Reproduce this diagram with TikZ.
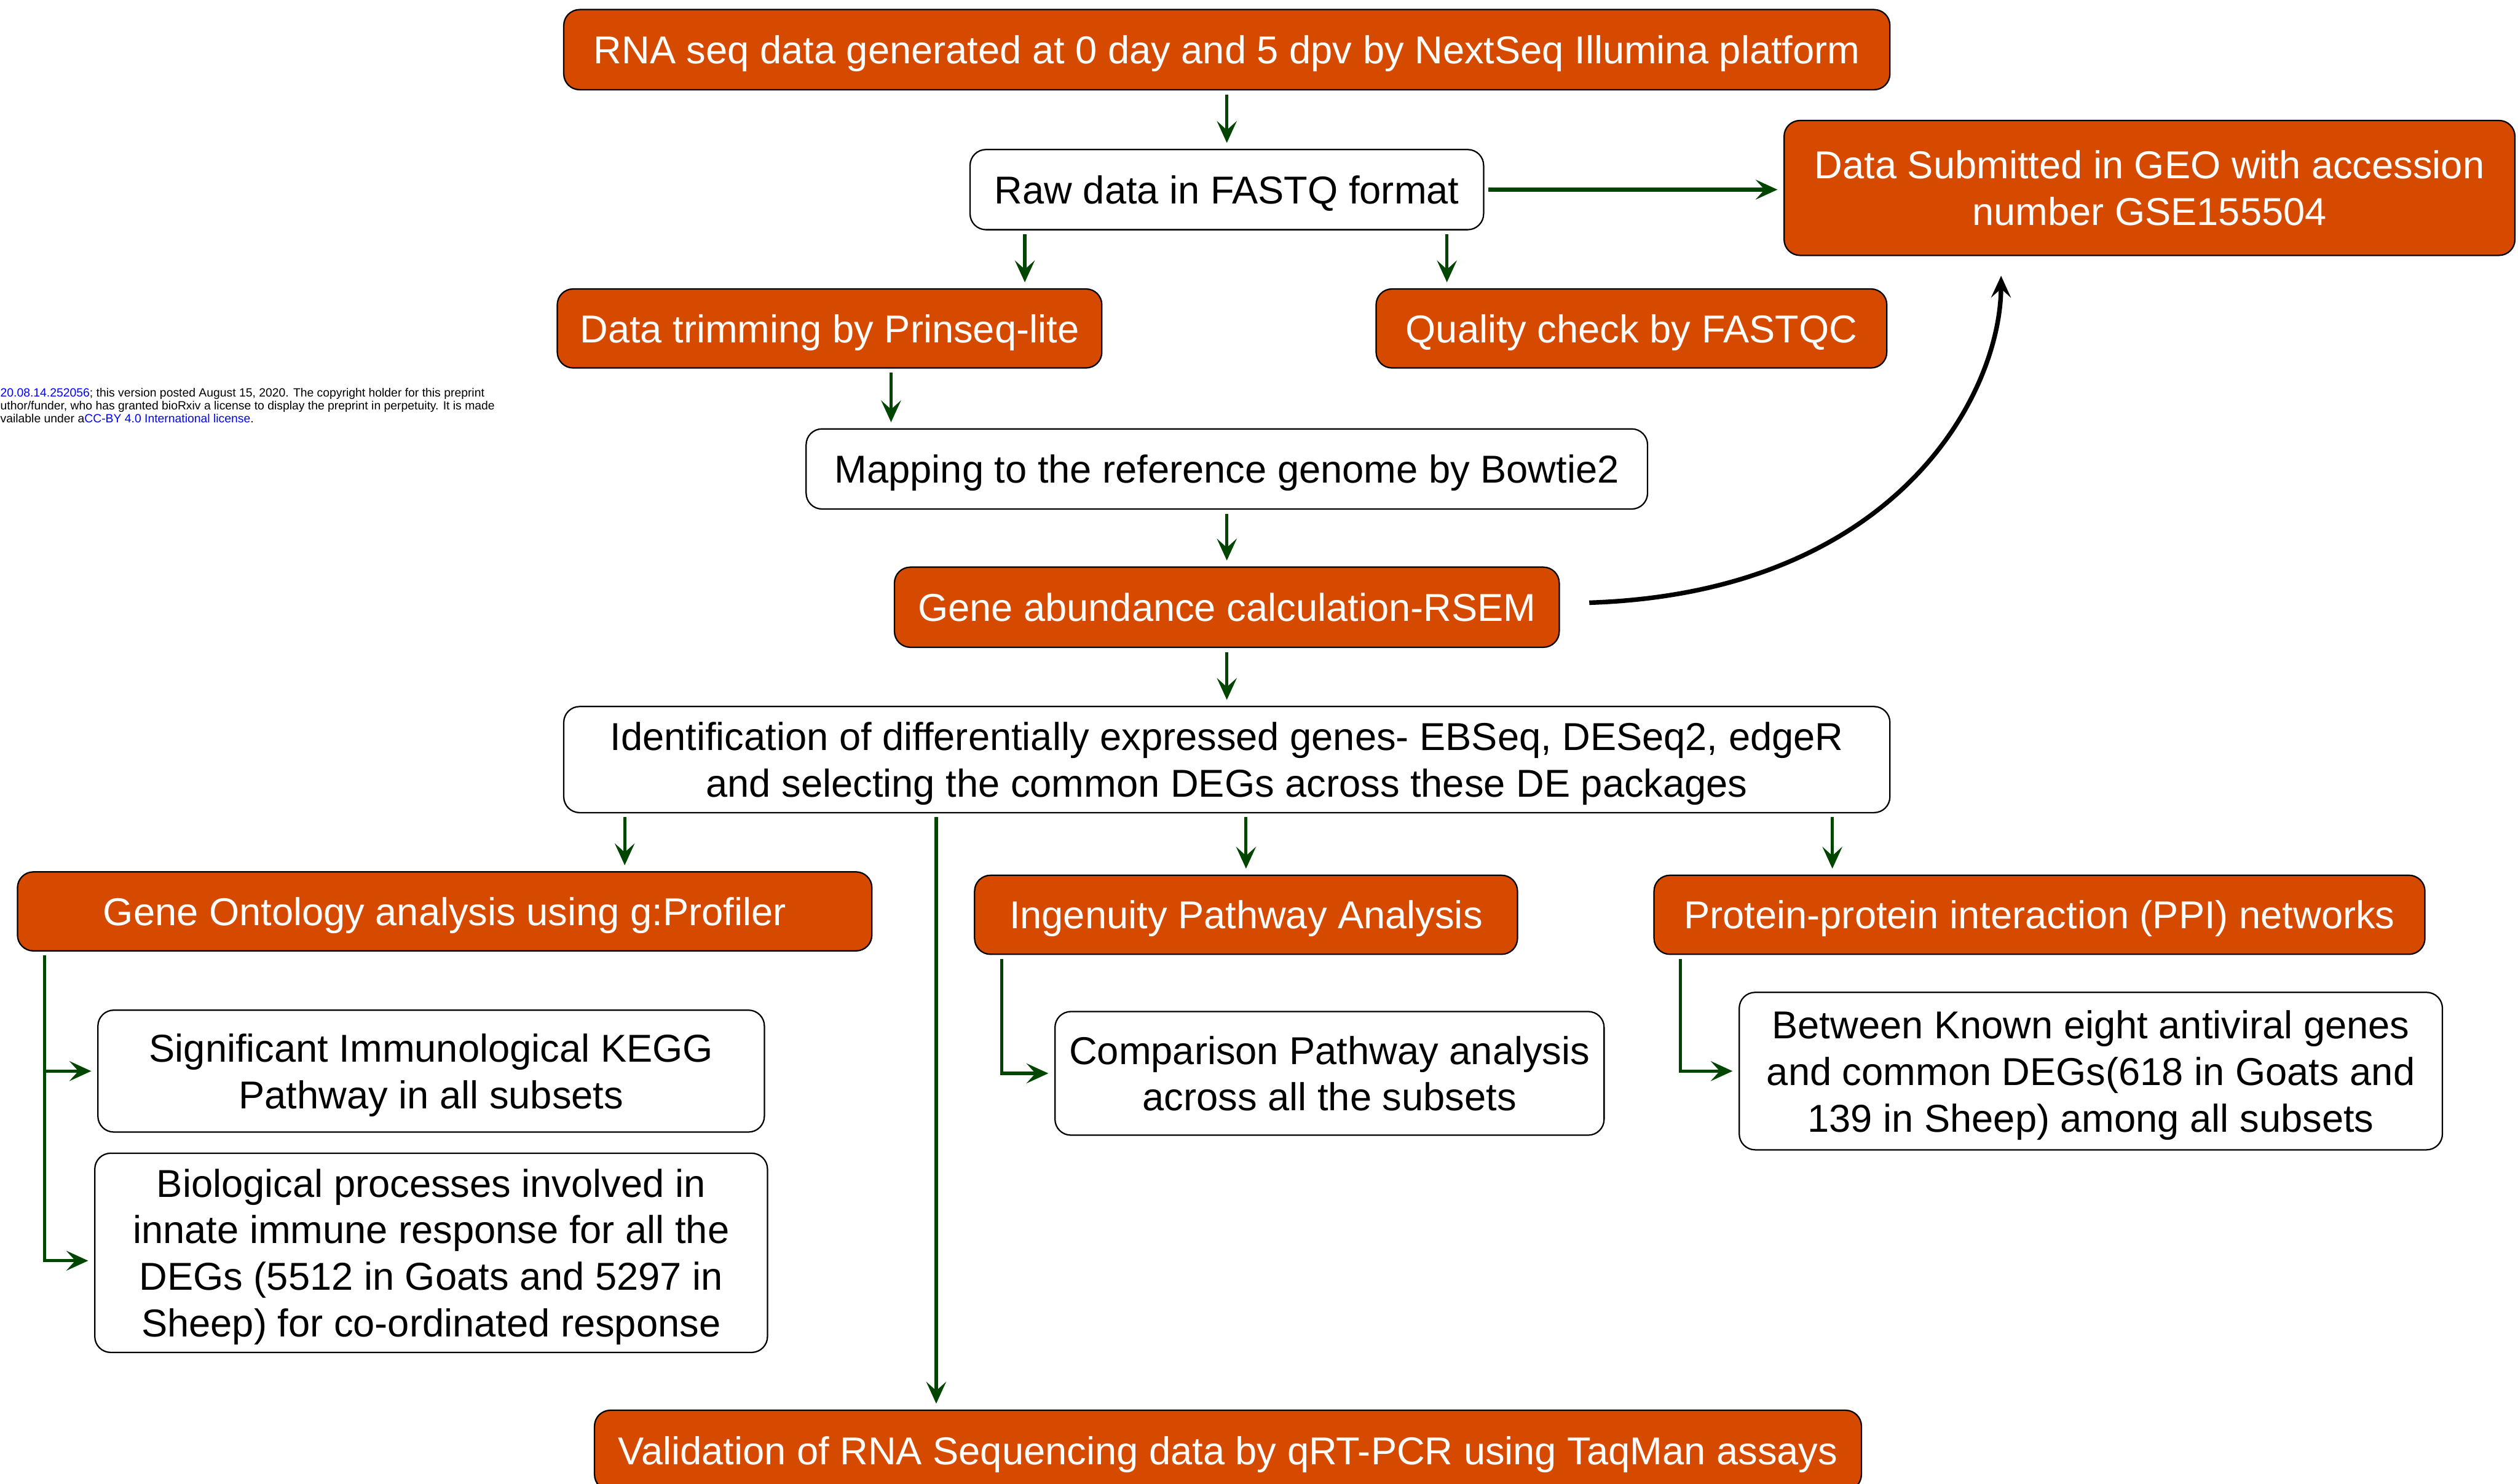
\documentclass[tikz,border=0pt]{standalone}
\usepackage{fontspec}
\setmainfont{Liberation Sans}
\usepackage{xcolor}
\usepackage{tikz}
\usetikzlibrary{arrows.meta}

\definecolor{boxorange}{RGB}{214,74,0}
\definecolor{arrowgreen}{RGB}{0,70,0}

\tikzset{
    box/.style={rectangle, rounded corners=8pt, draw=black, line width=0.7pt,
        align=center, inner sep=0pt, text depth=0pt, font=\fontsize{19.6}{23.5}\selectfont},
    orangebox/.style={box, fill=boxorange, text=white},
    whitebox/.style={box, fill=white, text=black},
    tip/.style={-{Stealth[length=11pt, width=10pt, inset=4.5pt]}},
    flow/.style={tip, draw=arrowgreen, line width=1.6pt, shorten <=2pt, shorten >=3pt},
    flowthick/.style={flow, line width=2.4pt},
    backflow/.style={tip, draw=black, line width=2.3pt}}

\begin{document}
\begin{tikzpicture}

            \useasboundingbox (0,0) rectangle (44.62,-26.29);

            \node[anchor=north west, align=left, inner sep=0pt, font=\fontsize{6}{6.5}\selectfont] (NOTE) at (0,-6.87) {\textcolor{blue}{20.08.14.252056}; this version posted August 15, 2020. The copyright holder for this preprint\\uthor/funder, who has granted bioRxiv a license to display the preprint in perpetuity. It is made\\vailable under a\textcolor{blue}{CC-BY 4.0 International license}.};

            \node[orangebox, minimum width=23.50cm, minimum height=1.42cm] (RNA) at (21.74,-0.88) {RNA seq data generated at 0 day and 5 dpv by NextSeq Illumina platform};
            \node[whitebox, minimum width=9.10cm, minimum height=1.42cm] (RAW) at (21.74,-3.36) {Raw data in FASTQ format};
            \node[orangebox, minimum width=12.95cm, minimum height=2.39cm] (GEO) at (38.09,-3.33) {Data Submitted in GEO with accession\\number GSE155504};
            \node[orangebox, minimum width=9.65cm, minimum height=1.40cm] (TRIM) at (14.70,-5.82) {Data trimming by Prinseq-lite};
            \node[orangebox, minimum width=9.05cm, minimum height=1.40cm] (QC) at (28.91,-5.82) {Quality check by FASTQC};
            \node[whitebox, minimum width=14.91cm, minimum height=1.42cm] (MAP) at (21.74,-8.31) {Mapping to the reference genome by Bowtie2};
            \node[orangebox, minimum width=11.78cm, minimum height=1.42cm] (RSEM) at (21.74,-10.76) {Gene abundance calculation-RSEM};
            \node[whitebox, minimum width=23.50cm, minimum height=1.88cm] (DEG) at (21.74,-13.46) {Identification of differentially expressed genes- EBSeq, DESeq2, edgeR\\and selecting the common DEGs across these DE packages};

            \node[orangebox, minimum width=15.14cm, minimum height=1.40cm] (GO) at (7.88,-16.15) {Gene Ontology analysis using g:Profiler};
            \node[orangebox, minimum width=9.62cm, minimum height=1.40cm] (IPA) at (22.08,-16.21) {Ingenuity Pathway Analysis};
            \node[orangebox, minimum width=13.66cm, minimum height=1.40cm] (PPI) at (36.14,-16.21) {Protein-protein interaction (PPI) networks};

            \node[whitebox, minimum width=11.81cm, minimum height=2.16cm] (KEGG) at (7.64,-18.98) {Significant Immunological KEGG\\Pathway in all subsets};
            \node[whitebox, minimum width=11.92cm, minimum height=3.53cm] (BP) at (7.64,-22.20) {Biological processes involved in\\innate immune response for all the\\DEGs (5512 in Goats and 5297 in\\Sheep) for co-ordinated response};
            \node[whitebox, minimum width=9.73cm, minimum height=2.19cm] (CPA) at (23.56,-19.02) {Comparison Pathway analysis\\across all the subsets};
            \node[whitebox, minimum width=12.46cm, minimum height=2.79cm] (AVG) at (37.05,-18.98) {Between Known eight antiviral genes\\and common DEGs(618 in Goats and\\139 in Sheep) among all subsets};
            \node[orangebox, minimum width=22.45cm, minimum height=1.42cm] (VAL) at (21.76,-25.70) {Validation of RNA Sequencing data by qRT-PCR using TaqMan assays};

            \draw[flow] (RNA.south) -- (RAW.north);
            \draw[flow] ([xshift=-3.58cm]RAW.south) -- ([xshift=-3.58cm]RAW.south |- TRIM.north);
            \draw[flow] ([xshift=3.90cm]RAW.south) -- ([xshift=3.90cm]RAW.south |- QC.north);
            \draw[flowthick] (RAW.east) -- (RAW.east -| GEO.west);
            \draw[flow] ([xshift=1.09cm]TRIM.south) -- ([xshift=1.09cm]TRIM.south |- MAP.north);
            \draw[flow] (MAP.south) -- (RSEM.north);
            \draw[flow] (RSEM.south) -- (DEG.north);
            \draw[backflow] ([shift={(0.52cm,0.08cm)}]RSEM.east) .. controls (33.6,-10.5) and (35.45,-7.0) .. ([shift={(-2.63cm,-0.35cm)}]GEO.south);

            \draw[flow] ([xshift=-10.67cm]DEG.south) -- ([xshift=-10.67cm]DEG.south |- GO.north);
            \draw[flow] (DEG.south -| IPA.north) -- (IPA.north);
            \draw[flow] ([xshift=10.73cm]DEG.south) -- ([xshift=10.73cm]DEG.south |- PPI.north);
            \draw[flow] ([xshift=-5.15cm]DEG.south) -- ([xshift=-5.15cm]DEG.south |- VAL.north);

            \draw[flow] ([xshift=0.49cm]GO.south west) |- (KEGG.west);
            \draw[flow] ([xshift=0.49cm]GO.south west) |- ([yshift=-0.14cm]BP.west);
            \draw[flow] ([xshift=0.49cm]IPA.south west) |- (CPA.west);
            \draw[flow] ([xshift=0.48cm]PPI.south west) |- (AVG.west);

        \end{tikzpicture}
\end{document}
